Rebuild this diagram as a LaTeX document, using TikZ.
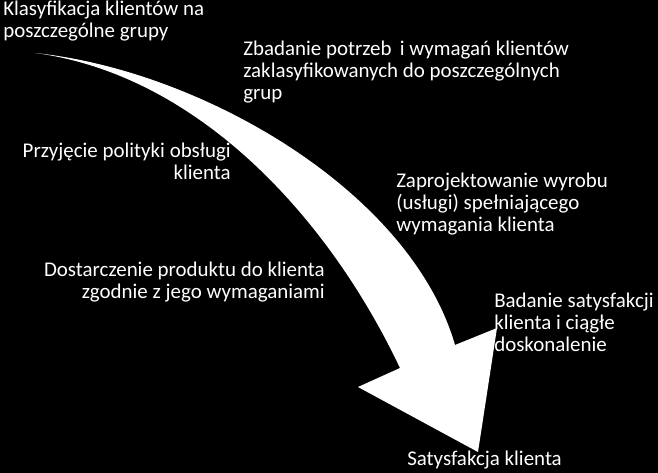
\documentclass[tikz,border=0pt]{standalone}
\usepackage{fontspec}
\setmainfont{Carlito}

\begin{document}
\begin{tikzpicture}[x=0.75pt, y=-0.75pt,
  lbl/.style={text=white, font=\fontsize{15.7}{16.5}\selectfont, inner sep=0pt}]

\fill[black] (0,0) rectangle (658,473);
\useasboundingbox (0,0) rectangle (658,473);

% the curved arrow
\fill[white] (35,53) coordinate (tail) .. controls (200,70) and (410,190) .. (455,345)
  -- (497,328) -- (478,452) coordinate (tip) -- (358,387) -- (400,368)
  .. controls (330,220) and (200,75) .. (tail) -- cycle;

\node[lbl, anchor=base west, align=left] (klas) at (3,38) {Klasyfikacja klientów na\\poszczególne grupy};
\node[lbl, anchor=base west, align=left] (badanie) at (243,100) {Zbadanie potrzeb\ \,i wymagań klientów\\zaklasyfikowanych do poszczególnych\\grup};
\node[lbl, anchor=base east, align=right] (polityka) at (231,180) {Przyjęcie polityki obsługi\\klienta};
\node[lbl, anchor=base west, align=left] (projekt) at (396,232) {Zaprojektowanie wyrobu\\(usługi) spełniającego\\wymagania klienta};
\node[lbl, anchor=base east, align=right] (dostawa) at (325,299) {Dostarczenie produktu do klienta\\zgodnie z jego wymaganiami};
\node[lbl, anchor=base west, align=left] (badsat) at (494,352) {Badanie satysfakcji\\klienta i ciągłe\\doskonalenie};
\node[lbl, anchor=base west] (satysf) at (407,466) {Satysfakcja klienta};

\end{tikzpicture}
\end{document}
